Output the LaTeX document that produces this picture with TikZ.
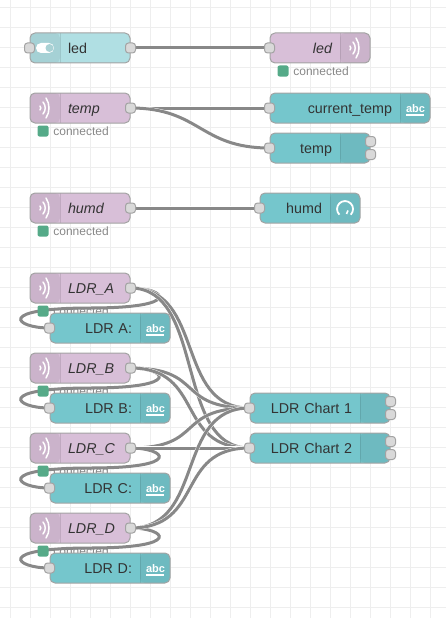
\documentclass[tikz,border=0pt]{standalone}
\usepackage{fontspec}
\setmainfont{Liberation Sans}
\usetikzlibrary{positioning,backgrounds}

\definecolor{gridcol}{HTML}{EEEEEE}
\definecolor{wirecol}{HTML}{888888}
\definecolor{edgecol}{HTML}{A3A3A3}
\definecolor{portfill}{HTML}{D9D9D9}
\definecolor{inputfill}{HTML}{B0DFE3}
\definecolor{mqttfill}{HTML}{D8BFD8}
\definecolor{uifill}{HTML}{75C6CC}
\definecolor{stgreen}{HTML}{55AA88}
\definecolor{sttext}{HTML}{888888}
\definecolor{labeltext}{HTML}{333333}

\tikzset{
  flow/.style={rectangle,rounded corners=5pt,draw=edgecol,line width=1pt,minimum height=30pt,inner sep=0pt,
    text=labeltext,font=\fontsize{14.3}{16}\selectfont,text height=10pt,text depth=0pt,text width=#1},
  leftsec/.style={align=left,execute at begin node={\hspace*{38pt}},path picture={
    \fill[black,opacity=.06] (path picture bounding box.north west) rectangle ([xshift=30pt]path picture bounding box.south west);
    \draw[black,opacity=.1] ([xshift=30pt]path picture bounding box.north west) -- ([xshift=30pt]path picture bounding box.south west);
    \pic at ([xshift=15pt]path picture bounding box.west) {#1};}},
  rightsec/.style={align=right,execute at end node={\hspace*{38pt}},path picture={
    \fill[black,opacity=.06] ([xshift=-30pt]path picture bounding box.north east) rectangle (path picture bounding box.south east);
    \draw[black,opacity=.1] ([xshift=-30pt]path picture bounding box.north east) -- ([xshift=-30pt]path picture bounding box.south east);
    \pic at ([xshift=-15pt]path picture bounding box.east) {#1};}},
  mqtt/.style={flow=#1,fill=mqttfill,font=\fontsize{14.3}{16}\selectfont\itshape},
  ui/.style={flow=#1,fill=uifill},
  port/.style={rectangle,rounded corners=3pt,draw=edgecol,fill=portfill,line width=1pt,minimum size=10pt,inner sep=0pt},
  status/.style={rectangle,rounded corners=2pt,fill=stgreen,minimum size=11pt,inner sep=0pt},
  stlabel/.style={inner sep=0pt,text=sttext,font=\fontsize{12}{14}\selectfont,text height=9pt,text depth=0pt,right=4.5pt of #1},
  abcicon/.style={inner sep=0pt,text=white,font=\fontsize{11}{12}\selectfont\bfseries,text height=8pt,text depth=0pt},
  wire/.style={draw=wirecol,line width=3pt,preaction={draw=white,line width=3.8pt}},
  waves/.pic={
    \draw[white,line width=1.5pt,line cap=round] (1,-10) .. controls (5,-4) and (5,4) .. (1,10);
    \draw[white,line width=1.5pt,line cap=round] (-2,-6) .. controls (1,-2) and (1,2) .. (-2,6);
    \draw[white,line width=1.5pt,line cap=round] (-5,-2) .. controls (-4,-1) and (-4,1) .. (-5,2);
  },
  toggle/.pic={
    \fill[white,rounded corners=5pt] (-9,-5) rectangle (9,5);
    \fill[inputfill!85!gray] (4.5,0) circle[radius=4pt];
  },
  underbar/.pic={
    \fill[white,sharp corners] (-9,5.5) rectangle (9,7.5);
  },
  gauge/.pic={
    \draw[white,line width=1.8pt,sharp corners] (5.7,6.7) arc[start angle=-45,end angle=225,radius=8pt];
    \draw[white,line width=1.6pt,sharp corners] (1.5,6) -- (3,2.5);
  },
  blank/.pic={}
}

\begin{document}
\begin{tikzpicture}[x=1pt,y=-1pt]
\useasboundingbox (0,0) rectangle (446,618);

% first row
\node[flow=100pt,fill=inputfill,leftsec=toggle] (led_in) at (80,48) {led};
\node[mqtt=100pt,rightsec=waves] (led_out) at (320,48) {led};
\node[status] (led_st) at (283,71) {};
\node[stlabel=led_st] (led_cn) {connected};

% temperature
\node[mqtt=100pt,leftsec=waves] (temp) at (80,108) {temp};
\node[status] (temp_st) at (43,131) {};
\node[stlabel=temp_st] (temp_cn) {connected};
\node[ui=160pt,rightsec=underbar] (current) at (350,108) {current\_temp};
\node[abcicon] (current_abc) at ([xshift=-15pt]current.east) {abc};
\node[ui=100pt,rightsec=blank] (tchart) at (320,148) {temp};

% humidity
\node[mqtt=100pt,leftsec=waves] (humd) at (80,208) {humd};
\node[status] (humd_st) at (43,231) {};
\node[stlabel=humd_st] (humd_cn) {connected};
\node[ui=100pt,rightsec=gauge] (hgauge) at (310,208) {humd};

% charts
\node[ui=140pt,rightsec=blank] (chart1) at (320,408) {LDR Chart 1};
\node[ui=140pt,rightsec=blank] (chart2) at (320,448) {LDR Chart 2};

% sensors
\foreach \n/\y in {A/288,B/368,C/448,D/528} {
  \node[mqtt=100pt,leftsec=waves] (ldr\n) at (80,\y) {LDR\_\n};
  \node[status] (ldr\n_st) at (43,\y+23) {};
  \node[stlabel=ldr\n_st] (ldr\n_cn) {connected};
  \node[ui=120pt,rightsec=underbar] (text\n) at (110,\y+40) {LDR \n:};
  \node[abcicon] (text\n_abc) at ([xshift=-15pt]text\n.east) {abc};
  \node[port] (ldr\n_o) at (ldr\n.east) {};
  \node[port] (text\n_i) at (text\n.west) {};
  \coordinate (ldr\n_m) at (90,\y+20);
}

% ports
\node[port] (led_in_o) at (led_in.west) {};
\node[port] (led_in_p) at (led_in.east) {};
\node[port] (led_out_i) at (led_out.west) {};
\node[port] (temp_o) at (temp.east) {};
\node[port] (current_i) at (current.west) {};
\node[port] (tchart_i) at (tchart.west) {};
\node[port] (tchart_a) at ([yshift=-6.5pt]tchart.east) {};
\node[port] (tchart_b) at ([yshift=6.5pt]tchart.east) {};
\node[port] (humd_o) at (humd.east) {};
\node[port] (hgauge_i) at (hgauge.west) {};
\node[port] (chart1_i) at (chart1.west) {};
\node[port] (chart1_a) at ([yshift=-6.5pt]chart1.east) {};
\node[port] (chart1_b) at ([yshift=6.5pt]chart1.east) {};
\node[port] (chart2_i) at (chart2.west) {};
\node[port] (chart2_a) at ([yshift=-6.5pt]chart2.east) {};
\node[port] (chart2_b) at ([yshift=6.5pt]chart2.east) {};

\begin{scope}[on background layer]
\foreach \x in {10,30,...,440} \draw[gridcol] (\x,0) -- (\x,618);
\foreach \y in {7,27,...,610} \draw[gridcol] (0,\y) -- (446,\y);

\draw[wire] (led_in_p.center) -- (led_out_i.center);
\draw[wire] (temp_o.center) -- (current_i.center);
\draw[wire] (temp_o.center) .. controls +(70,0) and +(-70,0) .. (tchart_i.center);
\draw[wire] (humd_o.center) -- (hgauge_i.center);
\foreach \n in {A,B,C,D} {
  \draw[wire] (ldr\n_o.center) .. controls +(35,0) and +(95,0) .. (ldr\n_m)
    .. controls +(-95,0) and +(-35,0) .. (text\n_i.center);
  \draw[wire] (ldr\n_o.center) .. controls +(75,0) and +(-75,0) .. (chart1_i.center);
  \draw[wire] (ldr\n_o.center) .. controls +(75,0) and +(-75,0) .. (chart2_i.center);
}
\end{scope}
\end{tikzpicture}
\end{document}
